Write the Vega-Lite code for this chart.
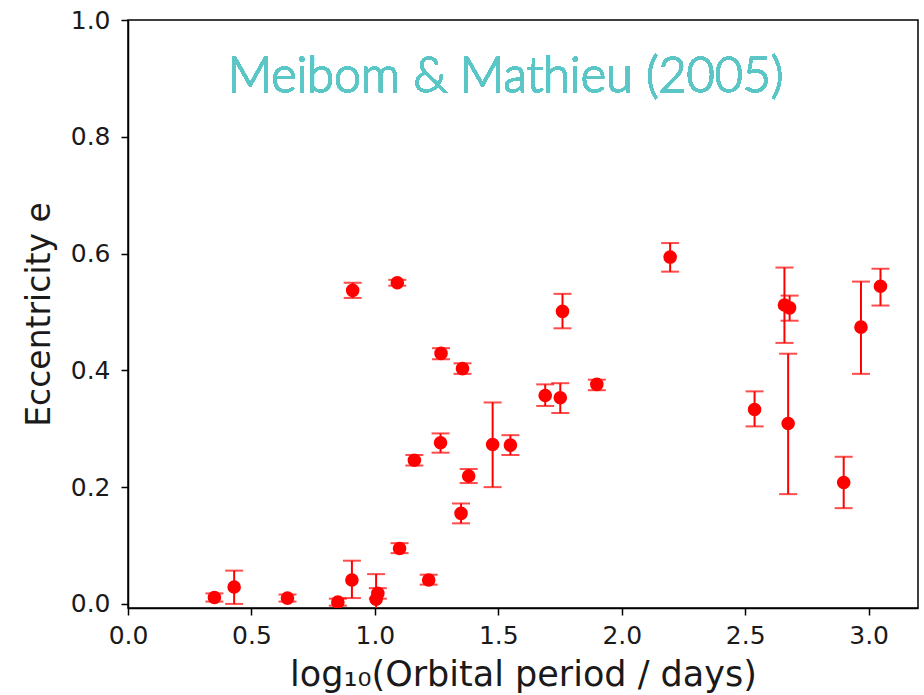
{
  "$schema": "https://vega.github.io/schema/vega-lite/v6.json",
  "width": 790,
  "height": 588,
  "autosize": {"type": "none"},
  "padding": {"left": 128, "top": 20, "right": 6, "bottom": 87},
  "background": "white",
  "config": {
    "view": {"stroke": "#000", "strokeWidth": 1.5},
    "axis": {
      "grid": false,
      "domainColor": "#000",
      "domainWidth": 1.5,
      "tickColor": "#000",
      "tickWidth": 1.5,
      "tickSize": 7,
      "labelFont": "DejaVu Sans",
      "labelFontSize": 25,
      "labelColor": "#1a1a1a",
      "labelFlush": false,
      "titleFont": "DejaVu Sans",
      "titleFontSize": 33,
      "titleFontWeight": "normal",
      "titleColor": "#1a1a1a"
    }
  },
  "data": {
    "values": [
      {"logP": 0.35, "e": 0.011, "lo": 0.004, "hi": 0.018},
      {"logP": 0.43, "e": 0.029, "lo": 0.0, "hi": 0.057},
      {"logP": 0.646, "e": 0.010, "lo": 0.004, "hi": 0.016},
      {"logP": 0.85, "e": 0.003, "lo": -0.003, "hi": 0.009},
      {"logP": 0.907, "e": 0.041, "lo": 0.010, "hi": 0.074},
      {"logP": 1.005, "e": 0.008, "lo": -0.035, "hi": 0.051},
      {"logP": 1.012, "e": 0.018, "lo": 0.009, "hi": 0.027},
      {"logP": 1.10, "e": 0.095, "lo": 0.087, "hi": 0.104},
      {"logP": 1.218, "e": 0.041, "lo": 0.033, "hi": 0.050},
      {"logP": 0.91, "e": 0.537, "lo": 0.524, "hi": 0.550},
      {"logP": 1.091, "e": 0.550, "lo": 0.545, "hi": 0.555},
      {"logP": 1.268, "e": 0.429, "lo": 0.419, "hi": 0.438},
      {"logP": 1.355, "e": 0.403, "lo": 0.394, "hi": 0.412},
      {"logP": 1.16, "e": 0.246, "lo": 0.237, "hi": 0.255},
      {"logP": 1.266, "e": 0.276, "lo": 0.259, "hi": 0.292},
      {"logP": 1.38, "e": 0.219, "lo": 0.207, "hi": 0.231},
      {"logP": 1.349, "e": 0.155, "lo": 0.138, "hi": 0.172},
      {"logP": 1.477, "e": 0.273, "lo": 0.200, "hi": 0.345},
      {"logP": 1.549, "e": 0.272, "lo": 0.255, "hi": 0.289},
      {"logP": 1.69, "e": 0.357, "lo": 0.339, "hi": 0.376},
      {"logP": 1.751, "e": 0.353, "lo": 0.327, "hi": 0.378},
      {"logP": 1.76, "e": 0.501, "lo": 0.472, "hi": 0.531},
      {"logP": 1.899, "e": 0.376, "lo": 0.366, "hi": 0.384},
      {"logP": 2.196, "e": 0.594, "lo": 0.569, "hi": 0.618},
      {"logP": 2.538, "e": 0.333, "lo": 0.304, "hi": 0.364},
      {"logP": 2.659, "e": 0.512, "lo": 0.447, "hi": 0.576},
      {"logP": 2.68, "e": 0.507, "lo": 0.485, "hi": 0.528},
      {"logP": 2.674, "e": 0.309, "lo": 0.188, "hi": 0.4285},
      {"logP": 2.899, "e": 0.208, "lo": 0.164, "hi": 0.252},
      {"logP": 2.969, "e": 0.474, "lo": 0.394, "hi": 0.552},
      {"logP": 3.048, "e": 0.544, "lo": 0.511, "hi": 0.574}
    ]
  },
  "encoding": {
    "x": {
      "field": "logP",
      "type": "quantitative",
      "scale": {"domain": [0, 3.2], "nice": false, "zero": false},
      "axis": {
        "title": "log₁₀(Orbital period / days)",
        "titleFontSize": 35,
        "values": [0, 0.5, 1.0, 1.5, 2.0, 2.5, 3.0],
        "format": ".1f",
        "labelPadding": 8,
        "titlePadding": 9
      }
    }
  },
  "layer": [
    {
      "mark": {"type": "rule", "color": "#ff0000", "strokeWidth": 2, "clip": true},
      "encoding": {
        "y": {
          "field": "lo",
          "type": "quantitative",
          "scale": {"domain": [-0.007, 1.0], "nice": false, "zero": false},
          "axis": {
            "title": "Eccentricity e",
            "values": [0, 0.2, 0.4, 0.6, 0.8, 1.0],
            "format": ".1f",
            "labelPadding": 11,
            "titlePadding": 14
          }
        },
        "y2": {"field": "hi"}
      }
    },
    {
      "mark": {"type": "tick", "orient": "horizontal", "color": "#ff0000", "size": 18, "thickness": 2, "clip": true},
      "encoding": {"y": {"field": "lo", "type": "quantitative"}}
    },
    {
      "mark": {"type": "tick", "orient": "horizontal", "color": "#ff0000", "size": 18, "thickness": 2, "clip": true},
      "encoding": {"y": {"field": "hi", "type": "quantitative"}}
    },
    {
      "mark": {"type": "circle", "color": "#ff0000", "opacity": 1, "size": 185, "clip": true},
      "encoding": {"y": {"field": "e", "type": "quantitative"}}
    },
    {
      "mark": {"type": "text", "font": "Lato", "fontWeight": 300, "fontSize": 48.5, "fill": "#5cc6c6", "stroke": "#5cc6c6", "strokeWidth": 0.9, "align": "center", "baseline": "alphabetic"},
      "encoding": {
        "x": {"datum": 1.53, "type": "quantitative"},
        "y": {"datum": 0.876, "type": "quantitative"},
        "text": {"value": "Meibom & Mathieu (2005)"}
      }
    }
  ]
}
